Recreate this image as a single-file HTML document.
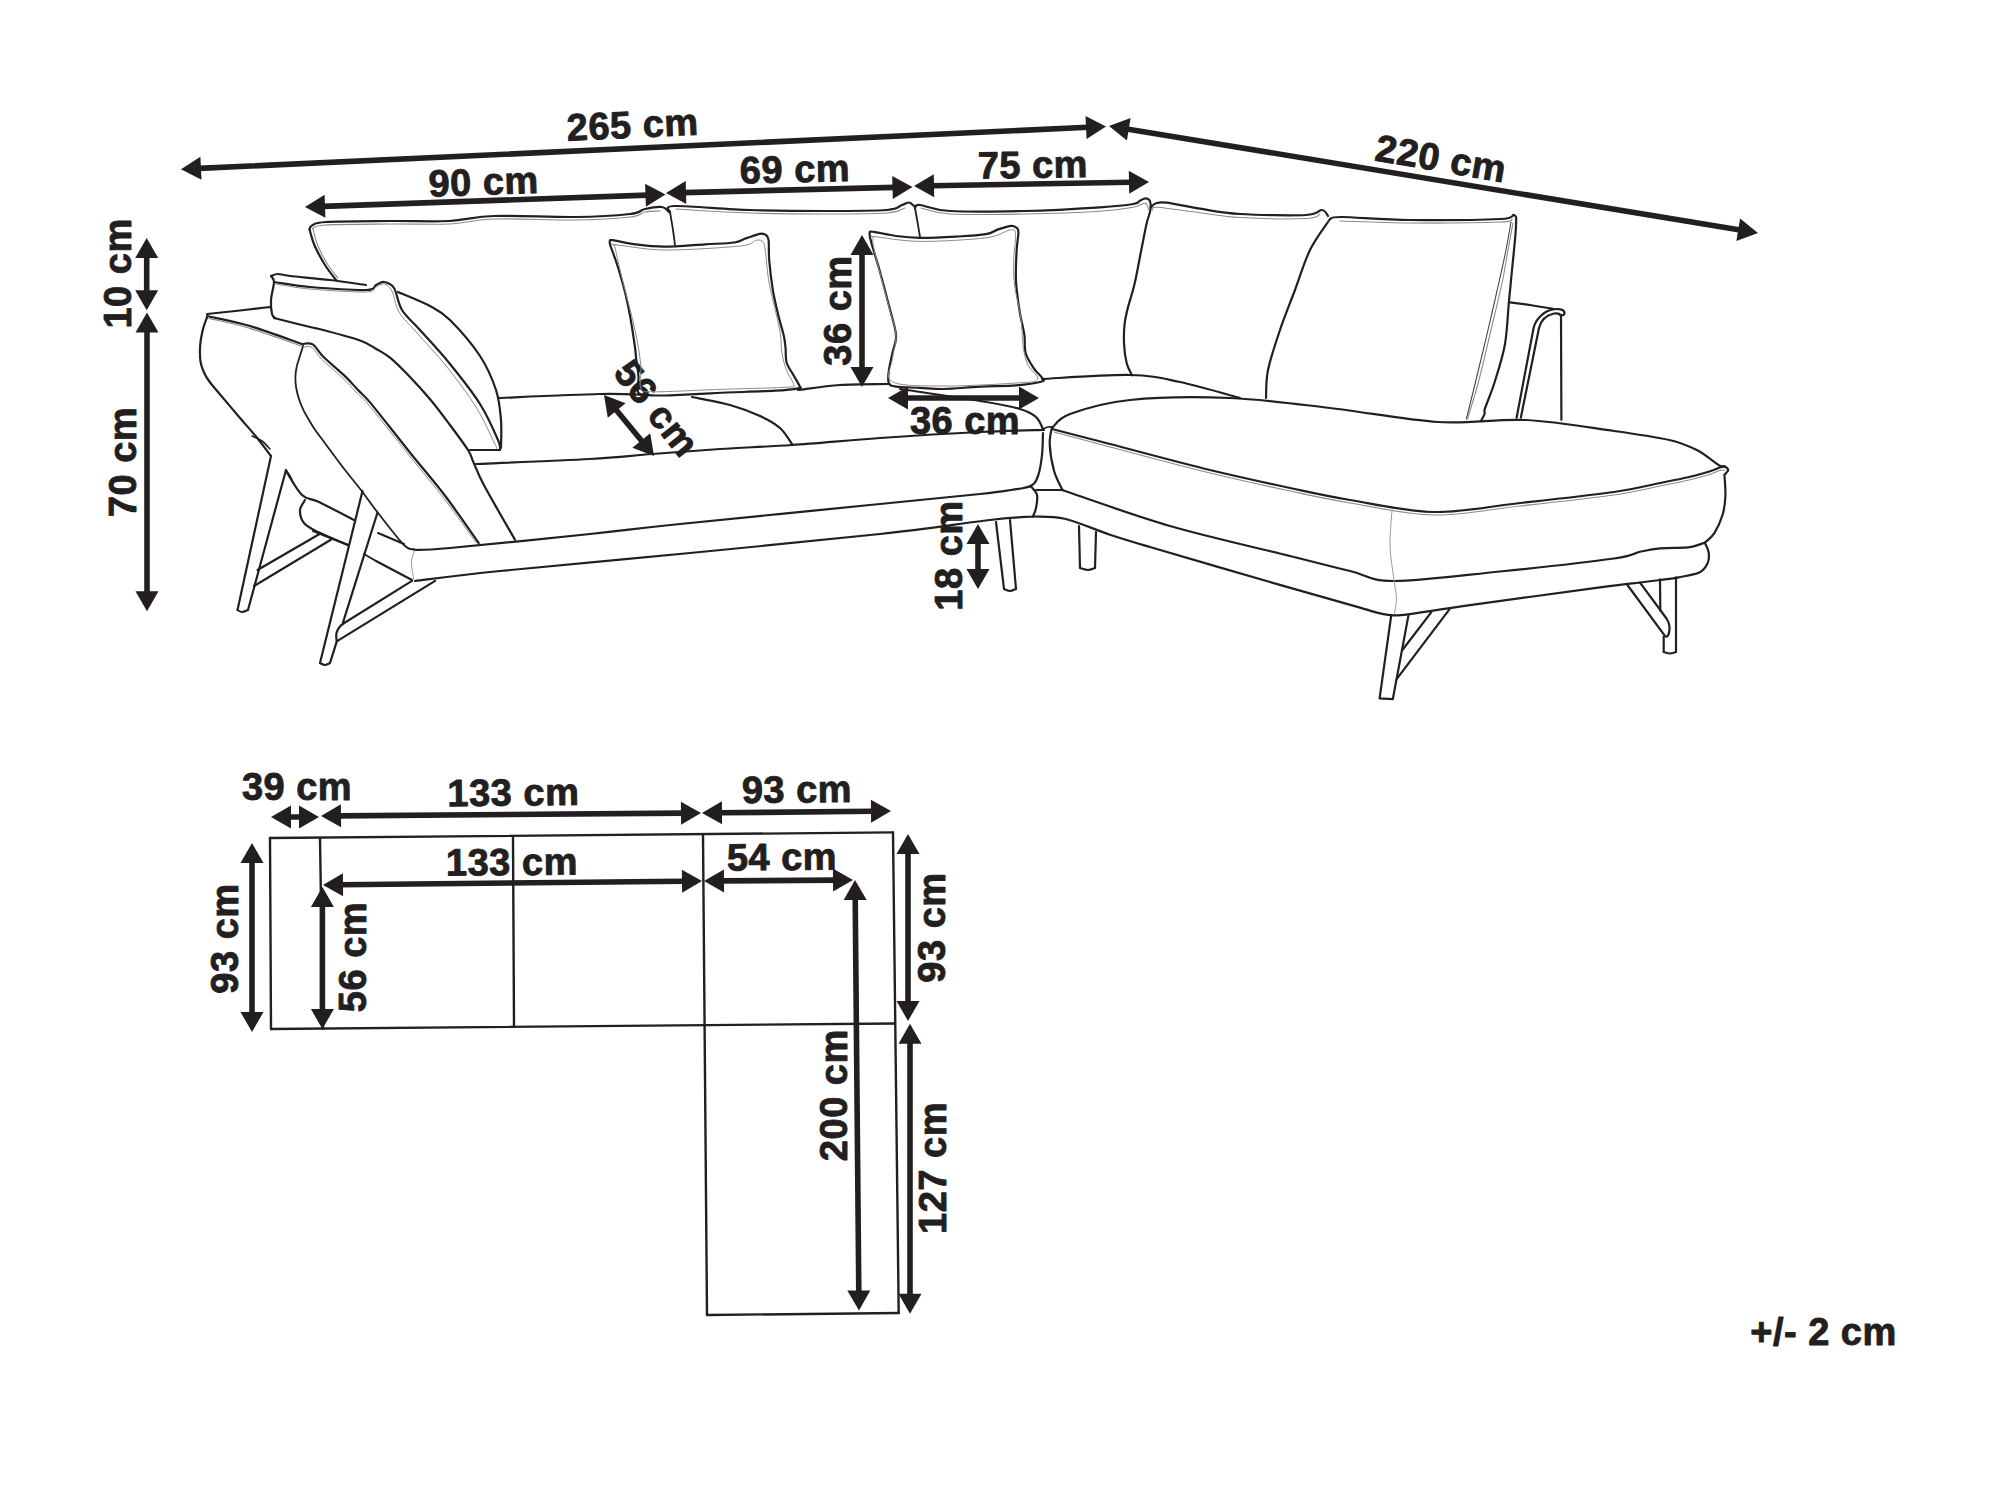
<!DOCTYPE html>
<html><head><meta charset="utf-8"><style>
html,body{margin:0;padding:0;background:#fff;overflow:hidden;width:2000px;height:1500px;}
svg{display:block;}
text{font-family:"Liberation Sans",sans-serif;font-weight:bold;fill:#231f20;stroke:#231f20;stroke-width:0.9px;text-anchor:middle;}
</style></head><body>
<svg width="2000" height="1500" viewBox="0 0 2000 1500" stroke-linecap="round" stroke-linejoin="round">
<rect width="2000" height="1500" fill="#fff"/>
<path d="M181,169.2 L200.4,156.8 L201.5,179.8Z" fill="#231f20"/>
<path d="M1106,126.5 L1086.6,138.9 L1085.5,115.9Z" fill="#231f20"/>
<line x1="199" y1="168.4" x2="1088" y2="127.3" stroke="#231f20" stroke-width="5.6"/>
<path d="M1109,126 L1130.6,117.9 L1126.9,140.6Z" fill="#231f20"/>
<path d="M1758,233 L1736.4,241.1 L1740.1,218.4Z" fill="#231f20"/>
<line x1="1126.8" y1="128.9" x2="1740.2" y2="230.1" stroke="#231f20" stroke-width="5.6"/>
<path d="M305,207 L324.6,194.8 L325.4,217.8Z" fill="#231f20"/>
<path d="M665.5,194.5 L645.9,206.7 L645.1,183.7Z" fill="#231f20"/>
<line x1="323" y1="206.4" x2="647.5" y2="195.1" stroke="#231f20" stroke-width="5.6"/>
<path d="M666,193 L685.7,181 L686.3,204Z" fill="#231f20"/>
<path d="M912.5,187 L892.8,199 L892.2,176Z" fill="#231f20"/>
<line x1="684" y1="192.6" x2="894.5" y2="187.4" stroke="#231f20" stroke-width="5.6"/>
<path d="M914,186 L933.8,174.2 L934.2,197.2Z" fill="#231f20"/>
<path d="M1149,182 L1129.2,193.8 L1128.8,170.8Z" fill="#231f20"/>
<line x1="932" y1="185.7" x2="1131" y2="182.3" stroke="#231f20" stroke-width="5.6"/>
<path d="M146.7,238 L158.2,258 L135.2,258Z" fill="#231f20"/>
<path d="M146.7,310.3 L135.2,290.3 L158.2,290.3Z" fill="#231f20"/>
<line x1="146.7" y1="256" x2="146.7" y2="292.3" stroke="#231f20" stroke-width="5.6"/>
<path d="M147,312.5 L158.5,332.5 L135.5,332.5Z" fill="#231f20"/>
<path d="M147,611.3 L135.5,591.3 L158.5,591.3Z" fill="#231f20"/>
<line x1="147" y1="330.5" x2="147" y2="593.3" stroke="#231f20" stroke-width="5.6"/>
<path d="M862,235 L873.5,255 L850.5,255Z" fill="#231f20"/>
<path d="M862,387 L850.5,367 L873.5,367Z" fill="#231f20"/>
<line x1="862" y1="253" x2="862" y2="369" stroke="#231f20" stroke-width="5.6"/>
<path d="M888,398 L908,386.5 L908,409.5Z" fill="#231f20"/>
<path d="M1039,398 L1019,409.5 L1019,386.5Z" fill="#231f20"/>
<line x1="906" y1="398" x2="1021" y2="398" stroke="#231f20" stroke-width="5.6"/>
<path d="M604,395 L625.6,403.2 L607.8,417.8Z" fill="#231f20"/>
<path d="M654,456 L632.4,447.8 L650.2,433.2Z" fill="#231f20"/>
<line x1="615.4" y1="408.9" x2="642.6" y2="442.1" stroke="#231f20" stroke-width="5.6"/>
<path d="M978,524 L989.5,544 L966.5,544Z" fill="#231f20"/>
<path d="M978,589 L966.5,569 L989.5,569Z" fill="#231f20"/>
<line x1="978" y1="542" x2="978" y2="571" stroke="#231f20" stroke-width="5.6"/>
<text transform="translate(633.2,137.8) rotate(-2.6)" font-size="38" letter-spacing="0.5">265 cm</text>
<text transform="translate(484,194.8) rotate(-1.9)" font-size="38" letter-spacing="0.5">90 cm</text>
<text transform="translate(795.2,182.3) rotate(-1.3)" font-size="38" letter-spacing="0.5">69 cm</text>
<text transform="translate(1033,177.8) rotate(-0.8)" font-size="38" letter-spacing="0.5">75 cm</text>
<text transform="translate(1438.8,171.3) rotate(9.7)" font-size="38" letter-spacing="0.5">220 cm</text>
<text transform="translate(131,273.4) rotate(-90)" font-size="38" letter-spacing="0.5">10 cm</text>
<text transform="translate(136,462) rotate(-90)" font-size="38" letter-spacing="0.5">70 cm</text>
<text transform="translate(851,310.5) rotate(-90)" font-size="38" letter-spacing="0.5">36 cm</text>
<text transform="translate(965,433.5)" font-size="38" letter-spacing="0.5">36 cm</text>
<text transform="translate(962,555.5) rotate(-90)" font-size="38" letter-spacing="0.5">18 cm</text>
<text transform="translate(646.5,416.5) rotate(51.5)" font-size="38" letter-spacing="0.5">56 cm</text>
<path d="M270,838 L893,832.4" stroke="#231f20" stroke-width="2.4" fill="none"/>
<path d="M270,838 L271,1029" stroke="#231f20" stroke-width="2.4" fill="none"/>
<path d="M271,1029 L895,1023.5" stroke="#231f20" stroke-width="2.4" fill="none"/>
<path d="M893,832.4 L898.7,1313" stroke="#231f20" stroke-width="2.4" fill="none"/>
<path d="M703,835 L707,1315" stroke="#231f20" stroke-width="2.4" fill="none"/>
<path d="M707,1315 L898.7,1313" stroke="#231f20" stroke-width="2.4" fill="none"/>
<path d="M320,838 L323,1028.5" stroke="#231f20" stroke-width="2.4" fill="none"/>
<path d="M513,837 L514,1027" stroke="#231f20" stroke-width="2.4" fill="none"/>
<path d="M271,817 L291,805.5 L291,828.5Z" fill="#231f20"/>
<path d="M319,817 L299,828.5 L299,805.5Z" fill="#231f20"/>
<line x1="289" y1="817" x2="301" y2="817" stroke="#231f20" stroke-width="5.6"/>
<path d="M321,816 L340.9,804.3 L341.1,827.3Z" fill="#231f20"/>
<path d="M701,813 L681.1,824.7 L680.9,801.7Z" fill="#231f20"/>
<line x1="339" y1="815.9" x2="683" y2="813.1" stroke="#231f20" stroke-width="5.6"/>
<path d="M702,813 L721.9,801.3 L722.1,824.3Z" fill="#231f20"/>
<path d="M891,811 L871.1,822.7 L870.9,799.7Z" fill="#231f20"/>
<line x1="720" y1="812.8" x2="873" y2="811.2" stroke="#231f20" stroke-width="5.6"/>
<path d="M323,885 L342.9,873.3 L343.1,896.3Z" fill="#231f20"/>
<path d="M702,881 L682.1,892.7 L681.9,869.7Z" fill="#231f20"/>
<line x1="341" y1="884.8" x2="684" y2="881.2" stroke="#231f20" stroke-width="5.6"/>
<path d="M704,881 L723.9,869.4 L724.1,892.4Z" fill="#231f20"/>
<path d="M853,880 L833.1,891.6 L832.9,868.6Z" fill="#231f20"/>
<line x1="722" y1="880.9" x2="835" y2="880.1" stroke="#231f20" stroke-width="5.6"/>
<path d="M252,843 L263.5,863 L240.5,863Z" fill="#231f20"/>
<path d="M252,1032 L240.5,1012 L263.5,1012Z" fill="#231f20"/>
<line x1="252" y1="861" x2="252" y2="1014" stroke="#231f20" stroke-width="5.6"/>
<path d="M322.4,887 L333.9,907 L310.9,907Z" fill="#231f20"/>
<path d="M322.4,1029 L310.9,1009 L333.9,1009Z" fill="#231f20"/>
<line x1="322.4" y1="905" x2="322.4" y2="1011" stroke="#231f20" stroke-width="5.6"/>
<path d="M908,834 L919.5,854 L896.5,854Z" fill="#231f20"/>
<path d="M908,1021 L896.5,1001 L919.5,1001Z" fill="#231f20"/>
<line x1="908" y1="852" x2="908" y2="1003" stroke="#231f20" stroke-width="5.6"/>
<path d="M910,1023.8 L921.5,1043.8 L898.5,1043.8Z" fill="#231f20"/>
<path d="M910,1313.8 L898.5,1293.8 L921.5,1293.8Z" fill="#231f20"/>
<line x1="910" y1="1041.8" x2="910" y2="1295.8" stroke="#231f20" stroke-width="5.6"/>
<path d="M855,880 L866.7,899.9 L843.7,900.1Z" fill="#231f20"/>
<path d="M859,1310.5 L847.3,1290.6 L870.3,1290.4Z" fill="#231f20"/>
<line x1="855.2" y1="898" x2="858.8" y2="1292.5" stroke="#231f20" stroke-width="5.6"/>
<text transform="translate(297,800)" font-size="38" letter-spacing="0.5">39 cm</text>
<text transform="translate(513.5,805.5) rotate(-0.6)" font-size="38" letter-spacing="0.5">133 cm</text>
<text transform="translate(797,802.5) rotate(-0.5)" font-size="38" letter-spacing="0.5">93 cm</text>
<text transform="translate(512,875) rotate(-0.5)" font-size="38" letter-spacing="0.5">133 cm</text>
<text transform="translate(782,870) rotate(-0.4)" font-size="38" letter-spacing="0.5">54 cm</text>
<text transform="translate(238,938.5) rotate(-90)" font-size="38" letter-spacing="0.5">93 cm</text>
<text transform="translate(366,957) rotate(-90)" font-size="38" letter-spacing="0.5">56 cm</text>
<text transform="translate(945,927.5) rotate(-90)" font-size="38" letter-spacing="0.5">93 cm</text>
<text transform="translate(846.5,1095.2) rotate(-90)" font-size="38" letter-spacing="0.5">200 cm</text>
<text transform="translate(946,1168) rotate(-90)" font-size="38" letter-spacing="0.5">127 cm</text>
<text transform="translate(1823.5,1344.5)" font-size="38" letter-spacing="0.5">+/- 2 cm</text>
<path d="M207,314 L240,310.5 L270,307" stroke="#231f20" stroke-width="2.2" fill="none"/>
<path d="M207,316 C214.2,317.7 234.2,321.3 250,326 C265.8,330.7 293.3,341 302,344" stroke="#231f20" stroke-width="2.2" fill="none"/>
<path d="M209,318.4 C215.8,320.1 234.5,323.7 250,328.4 C265.5,333.1 293.3,343.4 302,346.4" stroke="#8a8a8a" stroke-width="1.1" fill="none"/>
<path d="M207,317.5 C206.3,319.4 204.1,324.4 203,329 C201.9,333.6 200.6,339.6 200.2,345 C199.8,350.4 199.9,356.9 200.5,361.5 C201.1,366.1 202.6,369.2 204,372.5 C205.4,375.8 206.7,377.8 209,381 C211.3,384.2 212.8,385.8 218,392 C223.2,398.2 233.7,410.6 240,418 C246.3,425.4 250.8,430.2 256,436.5 C261.2,442.8 268.5,452.8 271,456" stroke="#231f20" stroke-width="2.2" fill="none"/>
<path d="M252,436 C253.7,436.8 259,438.8 262,441 C265,443.2 268.7,447.7 270,449" stroke="#231f20" stroke-width="1.6" fill="none"/>
<path d="M286,470 C286.7,471 288.9,474.1 290,476 C291.1,477.9 292.2,480.5 292.6,481.4" stroke="#231f20" stroke-width="1.6" fill="none"/>
<path d="M286,471 C288.7,475 296.5,489.8 302,495 C307.5,500.2 310.3,497.8 319,502 C327.7,506.2 348.2,517 354,520" stroke="#231f20" stroke-width="2.2" fill="none"/>
<path d="M305,500 C304.2,501.7 300.2,506.2 300,510 C299.8,513.8 301,519.3 304,523 C307,526.7 310.7,528.3 318,532 C325.3,535.7 343,542.8 348,545" stroke="#231f20" stroke-width="2.2" fill="none"/>
<path d="M378,533 L404,544" stroke="#231f20" stroke-width="2" fill="none"/>
<path d="M364,554 L376,561" stroke="#231f20" stroke-width="2" fill="none"/>
<path d="M303.1,345.9 C302.6,347.6 301,352.5 299.9,356 C298.8,359.5 297.4,363.1 296.7,366.7 C295.9,370.2 295.5,373.8 295.4,377.3 C295.3,380.9 295.6,384.4 296.2,388 C296.8,391.6 297.8,395.1 298.9,398.7 C300,402.2 301.4,405.8 303.1,409.3 C304.8,412.9 307,416.6 309,420 C311,423.4 312.9,426.7 315.2,430 C317.5,433.3 320.1,436.7 322.6,440 C325.1,443.3 326.3,445 330,450 C333.7,455 339.8,463.3 345,470 C350.2,476.7 355.6,483 361,490 C366.4,497 370.1,502.8 377.3,512 C384.5,521.2 397.8,538.8 404,545 C410.2,551.2 412.9,548.6 414.7,549.3" stroke="#231f20" stroke-width="1.8" fill="none"/>
<path d="M302,344 C303.8,344.1 309.1,342.3 312.7,344.4 C316.2,346.5 318,351.4 323.3,356.7 C328.6,361.9 338.9,370.3 344.7,375.9 C350.5,381.4 353.8,385.6 358,390 C362.2,394.4 363,394.1 370,402.4 C377,410.7 392.3,430.4 400,440 C407.7,449.6 408.3,450.5 416,460 C423.7,469.5 435.6,483.2 446,497 C456.4,510.8 473.2,535.3 478.7,543" stroke="#231f20" stroke-width="2.2" fill="none"/>
<path d="M303,347.2 C304.5,347.2 308.9,345.4 312,347.4 C315.1,349.4 316.4,353.9 321.5,359 C326.6,364.1 336.9,372.5 342.6,378 C348.4,383.5 351.8,387.7 356,392 C360.2,396.3 361,395.8 368,404 C375,412.2 390.3,431.9 398,441.5 C405.7,451.1 406.3,452 414,461.5 C421.7,471 433.6,484.9 444,498.5 C454.4,512.1 471.1,535.6 476.5,543" stroke="#8a8a8a" stroke-width="1" fill="none"/>
<path d="M274,318 C280,319.5 301.8,325 310,327 C318.2,329 314.9,327.7 323.3,330 C331.8,332.3 351.8,337.5 360.7,340.7 C369.6,343.9 371.8,346.4 376.7,349.2 C381.6,352 384.4,353.1 390,357.7 C395.6,362.3 403.2,369.9 410,377 C416.8,384.1 424,392 430.7,400 C437.4,408 443.8,416.7 450,425 C456.2,433.3 464.1,443.9 468,450 C471.9,456.1 470.6,456 473.3,461.9 C476,467.8 477.1,472.3 484,485.3 C490.9,498.3 509.8,530.6 515,539.7" stroke="#231f20" stroke-width="2.2" fill="none"/>
<path d="M271,276 C271.5,277 274,278 274,282 C274,286 271.3,294.7 271,300 C270.7,305.3 271.3,311 272,314 C272.7,317 274.5,317.3 275,318" stroke="#231f20" stroke-width="2.2" fill="none"/>
<path d="M271,276 C272.2,275.7 274.8,274 278,274 C281.2,274 281.3,275 290,276 C298.7,277 317.3,278.5 330,280 C342.7,281.5 360,284.2 366,285" stroke="#231f20" stroke-width="2.2" fill="none"/>
<path d="M274,282 C280,282.8 294.7,285.7 310,287 C325.3,288.3 355,290.3 366,290 C377,289.7 373,286.3 376,285 C379,283.7 381,281.5 384,282 C387,282.5 391,283.3 394,288 C397,292.7 397.7,303 402,310 C406.3,317 412,321 420,330 C428,339 440,351.7 450,364 C460,376.3 472,391.3 480,404 C488,416.7 494.7,432.3 498,440 C501.3,447.7 499.7,448.3 500,450" stroke="#231f20" stroke-width="2.2" fill="none"/>
<path d="M276,284 C281.7,284.8 295,287.7 310,289 C325,290.3 355,292.3 366,292 C377,291.7 373,288.3 376,287 C379,285.7 381.3,283.3 384,284 C386.7,284.7 389.5,286.3 392,291 C394.5,295.7 394.8,305 399,312 C403.2,319 409,323.8 417,333 C425,342.2 437.2,354.7 447,367 C456.8,379.3 468.2,394.5 476,407 C483.8,419.5 490.5,435 494,442 C497.5,449 496.5,447.8 497,449" stroke="#8a8a8a" stroke-width="1" fill="none"/>
<path d="M470,450 L500,450" stroke="#231f20" stroke-width="2.2" fill="none"/>
<path d="M398,292 C403.3,294.3 421.3,301.3 430,306 C438.7,310.7 441.7,311.7 450,320 C458.3,328.3 472.3,344.3 480,356 C487.7,367.7 492.5,379.3 496,390 C499.5,400.7 500.2,410.3 501,420 C501.8,429.7 501,443.3 501,448" stroke="#231f20" stroke-width="2.2" fill="none"/>
<path d="M309.5,229.5 C309.9,228.8 309.2,226.8 312,225.5 C314.8,224.2 313,222.8 326,222 C339,221.2 369.5,221.2 390,221 C410.5,220.8 431.7,221.8 449,221 C466.3,220.2 473,216.7 494,216 C515,215.3 552.3,217.3 575,217 C597.7,216.7 618.3,215.3 630,214 C641.7,212.7 639.7,210.2 645,209 C650.3,207.8 658,206.5 662,207 C666,207.5 667.8,211.2 669,212" stroke="#231f20" stroke-width="2.2" fill="none"/>
<path d="M312,229 C314.2,228.3 312,225.8 325,225 C338,224.2 369.3,224.2 390,224 C410.7,223.8 431.7,224.8 449,224 C466.3,223.2 473,219.7 494,219 C515,218.3 552.3,220.3 575,220 C597.7,219.7 618.3,218.3 630,217 C641.7,215.7 640,213 645,212 C650,211 657.5,211.2 660,211" stroke="#8a8a8a" stroke-width="1.1" fill="none"/>
<path d="M309.5,229.5 C310.4,232.2 312,239.6 314.6,245.5 C317.2,251.4 321.4,259.2 325,265 C328.6,270.8 334.2,277.5 336,280" stroke="#231f20" stroke-width="2.2" fill="none"/>
<path d="M313,229 C313.8,231.8 315.5,240 318,246 C320.5,252 324.7,259.7 328,265 C331.3,270.3 336.3,275.8 338,278" stroke="#8a8a8a" stroke-width="1.1" fill="none"/>
<path d="M670,212 C670.8,211 661.7,206.3 675,206 C688.3,205.7 725,209.2 750,210 C775,210.8 802.2,211 825,211 C847.8,211 874.2,211 887,210 C899.8,209 898.3,206.2 902,205 C905.7,203.8 907,202.3 909,202.5 C911,202.7 913.2,205.4 914,206" stroke="#231f20" stroke-width="2.2" fill="none"/>
<path d="M676,209 C688.3,209.7 725.2,212.2 750,213 C774.8,213.8 802.2,214 825,214 C847.8,214 873.7,214 887,213 C900.3,212 902,208.8 905,208" stroke="#8a8a8a" stroke-width="1.1" fill="none"/>
<path d="M670,212 C670.5,215 672.2,224.5 673,230 C673.8,235.5 674.7,242.5 675,245" stroke="#231f20" stroke-width="1.8" fill="none"/>
<path d="M915,208 C915.8,207.5 914.2,204.5 920,205 C925.8,205.5 932.5,210 950,211 C967.5,212 1000,211.6 1025,211 C1050,210.4 1082,208.5 1100,207.3 C1118,206.1 1126.6,205.1 1133.3,204 C1140,202.9 1138,201.6 1140,200.7 C1142,199.8 1143.8,198.4 1145.3,198.3 C1146.8,198.2 1148.4,198.9 1149.3,200 C1150.2,201.1 1150.6,202.7 1150.7,204.7 C1150.8,206.7 1150.7,208.9 1150,212 C1149.3,215.1 1148.2,217 1146.7,223.3 C1145.2,229.6 1143.3,240 1141.3,250 C1139.3,260 1136.9,273.8 1134.7,283.3 C1132.5,292.9 1129.7,300.6 1128,307.3 C1126.3,314 1125.4,317.3 1124.7,323.3 C1124,329.3 1123.7,336.6 1124,343.3 C1124.3,350 1125.4,358 1126.7,363.3 C1128,368.6 1131.1,373.3 1132,375.3" stroke="#231f20" stroke-width="2.2" fill="none"/>
<path d="M921,208 C925.8,209 932.7,213 950,214 C967.3,215 1000,214.4 1025,214 C1050,213.6 1082,212.4 1100,211.3 C1118,210.2 1126,208.6 1133.3,207.3 C1140.6,206 1141.7,203.7 1144,203.3 C1146.3,202.9 1146.2,203.9 1147,205 C1147.8,206.1 1148.4,209.2 1148.7,210" stroke="#8a8a8a" stroke-width="1.1" fill="none"/>
<path d="M915,208 C915.5,210.8 917.2,220.2 918,225 C918.8,229.8 919.7,235 920,237" stroke="#231f20" stroke-width="1.8" fill="none"/>
<path d="M1150.7,207.3 C1151.6,206.6 1153.3,204.1 1156,203.3 C1158.7,202.5 1159.4,201.8 1166.7,202.7 C1174,203.6 1187.8,206.8 1200,208.7 C1212.2,210.6 1222.3,212.9 1240,214 C1257.7,215.1 1292.3,215.7 1306,215 C1319.7,214.3 1318.3,209.8 1322,210 C1325.7,210.2 1327,215 1328,216" stroke="#231f20" stroke-width="2.2" fill="none"/>
<path d="M1152.5,210 C1153.3,209.6 1149.4,206.9 1157.3,207.3 C1165.2,207.8 1186.2,211 1200,212.7 C1213.8,214.4 1222.3,216.5 1240,217.5 C1257.7,218.5 1292.7,219.1 1306,218.5 C1319.3,217.9 1317.7,214.8 1320,214" stroke="#8a8a8a" stroke-width="1.1" fill="none"/>
<path d="M1330,219 C1332,218.7 1328.7,216.8 1342,217 C1355.3,217.2 1383.7,219.7 1410,220 C1436.3,220.3 1482.7,219.8 1500,219 C1517.3,218.2 1511.3,213.8 1514,215 C1516.7,216.2 1516.3,216.8 1516,226 C1515.7,235.2 1513.2,257.5 1512,270 C1510.8,282.5 1510.2,288.7 1509,301 C1507.8,313.3 1507.3,330.7 1505,344 C1502.7,357.3 1498,371.2 1495,381 C1492,390.8 1488.8,398.2 1487,403 C1485.2,407.8 1484.9,408.2 1484.5,410 C1484.1,411.8 1485.1,412.2 1484.5,414 C1483.9,415.8 1481.6,419.8 1481,421" stroke="#231f20" stroke-width="2.2" fill="none"/>
<path d="M1330,219 C1326.7,224.2 1315.8,238.2 1310,250 C1304.2,261.8 1300,276.7 1295,290 C1290,303.3 1284.5,316.7 1280,330 C1275.5,343.3 1270.3,358.7 1268,370 C1265.7,381.3 1266.3,393.3 1266,398" stroke="#231f20" stroke-width="2.2" fill="none"/>
<path d="M1340,221 C1351.7,221.3 1383.3,222.8 1410,223 C1436.7,223.2 1483,222.7 1500,222 C1517,221.3 1510,219.5 1512,219" stroke="#8a8a8a" stroke-width="1.1" fill="none"/>
<path d="M1511,222 C1510.2,226.7 1507.9,240.3 1506,250 C1504.1,259.7 1502.5,266.7 1499.5,280 C1496.5,293.3 1491.9,313.3 1488,330 C1484.1,346.7 1479.6,365.2 1476,380 C1472.4,394.8 1468,412.5 1466.4,419" stroke="#444" stroke-width="1.1" fill="none"/>
<path d="M1513,223 C1512.2,227.5 1509.7,240.5 1508,250 C1506.3,259.5 1505.5,266.7 1502.7,280 C1499.9,293.3 1495,313.3 1491,330 C1487,346.7 1482.9,365.2 1479,380 C1475.1,394.8 1469.4,412.5 1467.5,419" stroke="#8a8a8a" stroke-width="1.1" fill="none"/>
<path d="M609.9,241.3 C610.3,240.3 608.6,239.7 612.8,240.2 C617,240.7 626.4,243.2 635,244.3 C643.6,245.4 652.5,246.6 664.2,246.6 C675.9,246.6 693.3,245 705,244.3 C716.7,243.6 727.4,243.5 734.2,242.5 C741,241.5 741.5,239.8 745.8,238.4 C750.1,237 756.5,234.4 759.8,233.8 C763.1,233.2 764.2,233.8 765.7,234.9 C767.2,236 768,236 768.6,240.2 C769.2,244.4 768.5,251.8 769.2,260 C769.9,268.2 771.2,279.9 772.7,289.2 C774.2,298.5 776.6,308.2 778.5,316 C780.4,323.8 782.6,330.6 783.8,335.8 C785,341.1 785,343 785.5,347.5 C786,352 785.3,358 786.7,362.7 C788.1,367.4 791.6,371.6 793.7,375.5 C795.8,379.4 798.7,383.9 799.5,386 C800.3,388.1 802.4,387.5 798.3,388.3 C794.2,389.1 788.6,389.9 775,390.7 C761.4,391.5 734.2,392.2 716.7,393 C699.2,393.8 680.7,394.9 670,395.3 C659.3,395.7 657.8,395.7 652.5,395.3 C647.2,394.9 640.8,396.1 638.5,393 C636.2,389.9 638.9,382.3 638.5,376.7 C638.1,371.1 636.8,364.1 636.2,359.2 C635.6,354.3 635.8,353.3 635,347.5 C634.2,341.7 633,332.9 631.5,324.2 C630,315.4 628,304.7 625.7,295 C623.4,285.3 620,274 617.5,265.8 C615,257.6 611.8,250.1 610.5,246 C609.2,241.9 609.5,242.3 609.9,241.3Z" stroke="#231f20" stroke-width="2.2" fill="none"/>
<path d="M615.2,244.8 C623.4,245.1 643.4,249.8 664.2,250 C685,250.2 724.6,247.6 740,246 C755.4,244.4 752.4,240.8 756.3,240.2 C760.2,239.6 761.7,240.2 763.3,242.5 C764.9,244.8 764.7,247.4 765.7,254.2 C766.7,261 766.9,270.7 769.2,283.3 C771.5,295.9 777.6,318.3 779.7,330 C781.8,341.7 780.8,346.5 782,353.3 C783.2,360.1 784.8,365.6 786.7,370.8 C788.7,376.1 793.7,382.1 793.7,384.8 C793.7,387.5 799.5,386.4 786.7,387.2 C773.9,388 739.1,388.7 716.7,389.5 C694.3,390.3 665.1,392 652.5,391.8 C639.9,391.6 642.8,392.8 640.8,388.3 C638.8,383.8 641.8,374.7 640.8,365 C639.8,355.3 637.9,343.6 635,330 C632.1,316.4 626.6,296.9 623.3,283.3 C620,269.7 616.6,254.7 615.2,248.3 C613.9,241.9 607,244.5 615.2,244.8Z" stroke="#8a8a8a" stroke-width="1" fill="none"/>
<path d="M869.6,233.6 C869.8,231.4 868.8,231.4 873.2,231.8 C877.6,232.2 888.2,235 896,236 C903.8,237 910,237.7 920,237.8 C930,237.9 945,237.2 956,236.6 C967,236 979,235.4 986,234.2 C993,233 993.8,230.8 998,229.4 C1002.2,228 1008,226 1011.2,225.8 C1014.4,225.6 1016,227 1017.2,228.2 C1018.4,229.4 1018.5,229.2 1018.4,233 C1018.3,236.8 1017,243 1016.6,251 C1016.2,259 1015.5,271 1016,281 C1016.5,291 1018.2,302 1019.6,311 C1021,320 1023.4,328 1024.4,335 C1025.4,342 1024,347.4 1025.6,353 C1027.2,358.6 1031.2,364.4 1034,368.6 C1036.8,372.8 1041.2,376 1042.4,378.2 C1043.6,380.4 1045.6,380.6 1041.2,381.8 C1036.8,383 1026.2,384.6 1016,385.4 C1005.8,386.2 992,386 980,386.6 C968,387.2 954,388.8 944,389 C934,389.2 928,388.2 920,387.8 C912,387.4 901.2,387.4 896,386.6 C890.8,385.8 890,385.6 888.8,383 C887.6,380.4 888.2,376 888.8,371 C889.4,366 891.2,359 892.4,353 C893.6,347 896.6,343 896,335 C895.4,327 891.6,316 888.8,305 C886,294 882,279 879.2,269 C876.4,259 873.6,250.9 872,245 C870.4,239.1 869.4,235.8 869.6,233.6Z" stroke="#231f20" stroke-width="2.2" fill="none"/>
<path d="M874.4,236.6 C882.2,237.2 901.4,241.2 920,241.4 C938.6,241.6 971,239.7 986,237.8 C1001,235.9 1005.1,230.6 1010,230 C1014.9,229.4 1014.8,228.7 1015.4,234.2 C1016,239.7 1013.7,254.2 1013.6,263 C1013.5,271.8 1013.6,278 1014.8,287 C1016,296 1019.4,307 1020.8,317 C1022.2,327 1022,339 1023.2,347 C1024.4,355 1025.6,359.6 1028,365 C1030.4,370.4 1039.6,376.4 1037.6,379.4 C1035.6,382.4 1031.6,381.9 1016,383 C1000.4,384.1 964.6,386.2 944,386 C923.4,385.8 901,386.3 892.4,381.8 C883.8,377.3 891.8,366.8 892.4,359 C893,351.2 896.6,343.8 896,335 C895.4,326.2 892.4,320.2 888.8,306.2 C885.2,292.2 877,262.4 874.4,251 C871.8,239.6 873.2,240.2 873.2,237.8 C873.2,235.4 866.6,236 874.4,236.6Z" stroke="#8a8a8a" stroke-width="1" fill="none"/>
<path d="M498,398 C515,397.3 575.3,394.5 600,394 C624.7,393.5 638.3,394.8 646,395" stroke="#231f20" stroke-width="2.2" fill="none"/>
<path d="M798,390 C805,389.2 825,386 840,385 C855,384 880,384.2 888,384" stroke="#231f20" stroke-width="2.2" fill="none"/>
<path d="M692,397 C698.3,398.3 718.7,401.8 730,405 C741.3,408.2 751.7,412.2 760,416 C768.3,419.8 774.7,423.3 780,428 C785.3,432.7 790,441.3 792,444" stroke="#231f20" stroke-width="2.2" fill="none"/>
<path d="M476,464 C495,463.2 560.7,460.7 590,459 C619.3,457.3 630.3,455.7 652,454 C673.7,452.3 696.7,450.5 720,449 C743.3,447.5 765.3,446.8 792,445 C818.7,443.2 848.7,440.2 880,438 C911.3,435.8 952.7,433.3 980,432 C1007.3,430.7 1033.3,430.3 1044,430" stroke="#231f20" stroke-width="2.2" fill="none"/>
<path d="M414,550 C420,549.7 420.7,550.7 450,548 C479.3,545.3 551.7,538 590,534 C628.3,530 631.7,529 680,524 C728.3,519 830,509 880,504 C930,499 958.2,496.3 980,494 C1001.8,491.7 1002.6,491.3 1011,490 C1019.4,488.7 1026,488.3 1030.5,486 C1035,483.7 1036.1,481.2 1038,476 C1039.9,470.8 1041.2,462.2 1042,455 C1042.8,447.8 1042.8,436.7 1043,433" stroke="#231f20" stroke-width="2.2" fill="none"/>
<path d="M414.7,550.4 C414.2,552.3 411.7,557.2 411.5,562 C411.3,566.8 413.2,576.2 413.6,579" stroke="#999" stroke-width="1" fill="none"/>
<path d="M415,581 C429.2,579.3 454.2,575.7 500,571 C545.8,566.3 626.7,559.2 690,553 C753.3,546.8 830,539.5 880,534 C930,528.5 964.5,522.9 990,520 C1015.5,517.1 1025.8,517.1 1033,516.5" stroke="#231f20" stroke-width="2.2" fill="none"/>
<path d="M313,531 L348,545" stroke="#231f20" stroke-width="2.2" fill="none"/>
<path d="M376,561 L412,580" stroke="#231f20" stroke-width="2.2" fill="none"/>
<path d="M271,456 L237.5,610" stroke="#231f20" stroke-width="2.2" fill="none"/>
<path d="M286,470 L248,610" stroke="#231f20" stroke-width="2.2" fill="none"/>
<path d="M237.5,610 C238.2,610.3 240.2,612 242,612 C243.8,612 247,610.3 248,610" stroke="#231f20" stroke-width="2" fill="none"/>
<path d="M257.5,570 L320,533.7" stroke="#231f20" stroke-width="2.2" fill="none"/>
<path d="M254,586 L332.5,538.7" stroke="#231f20" stroke-width="2.2" fill="none"/>
<path d="M362.5,491 L320,663" stroke="#231f20" stroke-width="2.2" fill="none"/>
<path d="M377.5,512.5 L342.8,623.2" stroke="#231f20" stroke-width="2.2" fill="none"/>
<path d="M336.8,641.4 L330,663" stroke="#231f20" stroke-width="2.2" fill="none"/>
<path d="M320,663 C320.8,663.3 323.3,665 325,665 C326.7,665 329.2,663.3 330,663" stroke="#231f20" stroke-width="2" fill="none"/>
<path d="M343.8,623.2 L412,580.9" stroke="#231f20" stroke-width="2.2" fill="none"/>
<path d="M435.1,580.9 L336.7,641.4 Q335.6,636 336.6,632.5 Q338.5,626.5 343.8,623.2" stroke="#231f20" stroke-width="2.2" fill="none"/>
<path d="M996,522 L1004,589" stroke="#231f20" stroke-width="2.2" fill="none"/>
<path d="M1010,520 L1016,589" stroke="#231f20" stroke-width="2.2" fill="none"/>
<path d="M1004,589 C1005,589.3 1008,591 1010,591 C1012,591 1015,589.3 1016,589" stroke="#231f20" stroke-width="2" fill="none"/>
<path d="M1042,379 C1056.7,378.3 1107,374.5 1130,375 C1153,375.5 1161.7,378.2 1180,382 C1198.3,385.8 1230,395.3 1240,398" stroke="#231f20" stroke-width="2.2" fill="none"/>
<path d="M900,389 C913.3,391 960,397.7 980,401 C1000,404.3 1010.7,406.3 1020,409 C1029.3,411.7 1032.2,413.7 1036,417 C1039.8,420.3 1041.8,427 1043,429" stroke="#231f20" stroke-width="2.2" fill="none"/>
<path d="M1043,429 C1043.8,428.7 1046.5,427.3 1048,427 C1049.5,426.7 1051.3,427 1052,427" stroke="#231f20" stroke-width="1.6" fill="none"/>
<path d="M1036,490 L1062.5,490" stroke="#231f20" stroke-width="1.8" fill="none"/>
<path d="M1030.5,486 C1031.6,487.5 1036.1,491.3 1037,495 C1037.9,498.7 1036.7,504.4 1036,508 C1035.3,511.6 1033.5,515.1 1033,516.5" stroke="#231f20" stroke-width="2.2" fill="none"/>
<path d="M1052,428 C1055,425.7 1057,418.7 1070,414 C1083,409.3 1103.3,402.7 1130,400 C1156.7,397.3 1196.7,396.7 1230,398 C1263.3,399.3 1295.3,404 1330,408 C1364.7,412 1405.3,420 1438,422 C1470.7,424 1496.7,418.5 1526,420 C1555.3,421.5 1590.1,427.7 1614,431 C1637.9,434.3 1655.4,436.8 1669.3,440 C1683.2,443.2 1689,446.1 1697.3,450.3 C1705.5,454.5 1714.3,462.6 1718.8,465.2 C1723.3,467.8 1722.8,465.4 1724.4,466.2 C1726,467 1728,468.6 1728.2,469.9 C1728.4,471.2 1725.9,473.1 1725.4,473.8" stroke="#231f20" stroke-width="2.2" fill="none"/>
<path d="M1052,429 C1061.7,431.5 1083.7,437.2 1110,444 C1136.3,450.8 1180,462.7 1210,470 C1240,477.3 1266.7,483 1290,488 C1313.3,493 1326,496 1350,500 C1374,504 1405.7,511.5 1434,512 C1462.3,512.5 1490,506.3 1520,503 C1550,499.7 1590.7,495.3 1614,492 C1637.3,488.7 1647.7,485.4 1660,483 C1672.3,480.6 1679.9,479.2 1688,477.3 C1696.1,475.4 1703.3,473.3 1708.6,471.7 C1713.9,470.1 1717.2,468.4 1719.8,467.5 C1722.4,466.6 1723.6,466.7 1724.4,466.5" stroke="#231f20" stroke-width="2.2" fill="none"/>
<path d="M1054,432 C1063.3,434.5 1084,440.2 1110,447 C1136,453.8 1180,465.7 1210,473 C1240,480.3 1266.7,486 1290,491 C1313.3,496 1326,499 1350,503 C1374,507 1405.7,514.5 1434,515 C1462.3,515.5 1490,509.3 1520,506 C1550,502.7 1590.7,498.3 1614,495 C1637.3,491.7 1647.7,488.4 1660,486 C1672.3,483.6 1679.9,482.2 1688,480.3 C1696.1,478.4 1703.3,476.3 1708.6,474.7 C1713.9,473.1 1717.1,471.3 1719.8,470.5 C1722.5,469.7 1724.1,470.1 1725,470" stroke="#8a8a8a" stroke-width="1.1" fill="none"/>
<path d="M1052,427 C1051.6,429.8 1049.4,436.7 1049.7,444 C1050,451.3 1051.9,463 1054,470.7 C1056.1,478.4 1061.1,486.8 1062.5,490" stroke="#231f20" stroke-width="2.2" fill="none"/>
<path d="M1724.4,474.5 C1724.6,478.1 1725.7,489.3 1725.4,496 C1725.1,502.7 1724.5,508.5 1722.6,514.7 C1720.7,520.9 1717.2,528.7 1714.2,533.4 C1711.2,538.1 1706.4,541.2 1704.8,542.7" stroke="#231f20" stroke-width="2.2" fill="none"/>
<path d="M1062,490 C1080,496 1132,515 1170,526 C1208,537 1260,548.5 1290,556 C1320,563.5 1332.7,566.8 1350,571 C1367.3,575.2 1369,580.9 1394,581 C1419,581.1 1463.3,575.2 1500,571.5 C1536.7,567.8 1590.7,561.8 1614,558.5 C1637.3,555.2 1632.3,553.5 1640,551.8 C1647.7,550.1 1652,549 1660,548.3 C1668,547.6 1681.5,548 1688,547.4 C1694.5,546.8 1696.4,545.4 1699.2,544.6 C1702,543.8 1703.9,543 1704.8,542.7" stroke="#231f20" stroke-width="2.2" fill="none"/>
<path d="M1392,510 C1391.7,515.8 1389.7,533.3 1390,545 C1390.3,556.7 1392.9,571.2 1394,580 C1395.1,588.8 1396.3,592.3 1396.4,598 C1396.5,603.7 1394.7,611.3 1394.4,614" stroke="#999" stroke-width="1" fill="none"/>
<path d="M1704.8,542.7 C1705.4,544.2 1708.1,548.6 1708.6,552 C1709.1,555.4 1709.2,559.8 1707.6,563.2 C1706,566.6 1704,570.2 1699.2,572.6 C1694.4,575 1685.2,576.1 1678.7,577.3 C1672.2,578.5 1663.1,579.5 1660,580" stroke="#231f20" stroke-width="2.2" fill="none"/>
<path d="M1033,516.5 C1038.3,516.9 1051.9,515.7 1064.7,518.7 C1077.5,521.7 1095.8,530 1110,534.7 C1124.2,539.4 1123.3,539.1 1150,547 C1176.7,554.9 1235,571.9 1270,582 C1305,592.1 1342.3,602.5 1360,607.6 C1377.7,612.7 1370.8,611.1 1376,612.4 C1381.2,613.7 1385.7,614.9 1391,615.2 C1396.3,615.5 1394.8,616.1 1408,614.4 C1421.2,612.7 1438,609.7 1470,605.2 C1502,600.7 1571.7,591.1 1600,587.3 C1628.3,583.5 1630,583.7 1640,582.5 C1650,581.3 1656.7,580.4 1660,580" stroke="#231f20" stroke-width="2.2" fill="none"/>
<path d="M1391.2,615.6 L1379.6,698.4 L1392.8,699.2 L1408.4,615.6" stroke="#231f20" stroke-width="2.2" fill="none"/>
<path d="M1431.2,612.4 L1402.4,650" stroke="#231f20" stroke-width="2.2" fill="none"/>
<path d="M1449.6,609.2 L1396.8,678.8" stroke="#231f20" stroke-width="2.2" fill="none"/>
<path d="M1660,579.3 L1660.3,610.7" stroke="#231f20" stroke-width="2.2" fill="none"/>
<path d="M1663.7,636.7 L1663.7,652" stroke="#231f20" stroke-width="2.2" fill="none"/>
<path d="M1676,577.3 L1676,652" stroke="#231f20" stroke-width="2.2" fill="none"/>
<path d="M1663.7,652 C1664.8,652.2 1668,653.5 1670,653.5 C1672,653.5 1675,652.2 1676,652" stroke="#231f20" stroke-width="2" fill="none"/>
<path d="M1626.7,584 L1664,634.7 Q1668,640 1669.5,630 Q1670,624 1666.5,618.5 L1640,582.7" stroke="#231f20" stroke-width="2.2" fill="none"/>
<path d="M1079,526 L1080,568" stroke="#231f20" stroke-width="2.2" fill="none"/>
<path d="M1096,532 L1095,568" stroke="#231f20" stroke-width="2.2" fill="none"/>
<path d="M1080,568 C1081.3,568.3 1085.5,570 1088,570 C1090.5,570 1093.8,568.3 1095,568" stroke="#231f20" stroke-width="2" fill="none"/>
<path d="M1510,302.4 C1513.3,302.8 1522.9,303.9 1530,305 C1537.1,306.1 1549,308.2 1552.8,308.8" stroke="#231f20" stroke-width="2.2" fill="none"/>
<path d="M1516.6,417.7 L1533.6,328 C1536,318 1545,311 1552.8,309.4 C1558,308.5 1564,309 1564.5,312.5 C1565,315 1562.5,315.5 1560.5,315.2" stroke="#231f20" stroke-width="2.2" fill="none"/>
<path d="M1520.8,417.7 L1539,328 C1541,320 1547,315 1554,313.5 C1557,313 1560,314 1561,315.2" stroke="#231f20" stroke-width="2.2" fill="none"/>
<path d="M1561,315.2 L1561.4,419.8" stroke="#231f20" stroke-width="2.2" fill="none"/>
</svg>
</body></html>
